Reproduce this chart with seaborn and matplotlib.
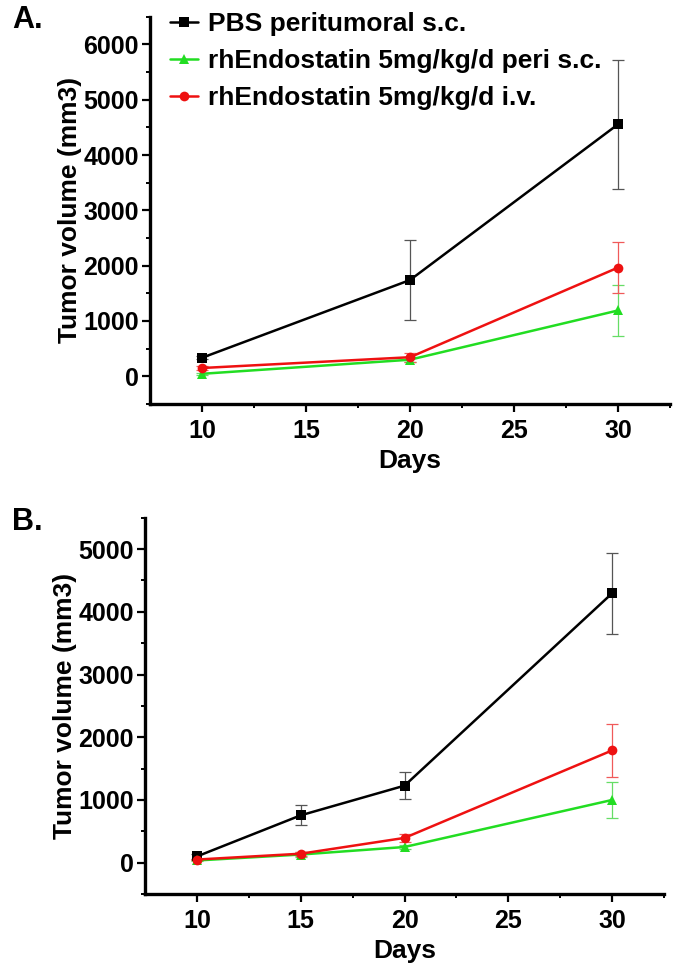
import matplotlib
matplotlib.use('Agg')
import matplotlib.pyplot as plt
import seaborn as sns
import numpy as np
import pandas as pd
from matplotlib.ticker import MultipleLocator, FixedLocator

sns.set_style('ticks')
plt.rcParams['font.family'] = ['Liberation Sans', 'DejaVu Sans']
plt.rcParams['font.weight'] = 'bold'
plt.rcParams.update({'text.color': 'black', 'axes.labelcolor': 'black',
                     'xtick.color': 'black', 'ytick.color': 'black',
                     'axes.edgecolor': 'black'})

# series names
groups = ['PBS peritumoral s.c.',
          'rhEndostatin 5mg/kg/d peri s.c.',
          'rhEndostatin 5mg/kg/d i.v.']

# panel A
days_a = [10, 20, 30]
pbs_a = [335, 1740, 4555]
pbs_a_err = [30, 725, 1170]
peri_a = [45, 300, 1190]
peri_a_err = [20, 40, 455]
iv_a = [150, 345, 1965]
iv_a_err = [30, 80, 460]

# panel B
days_b = [10, 15, 20, 30]
pbs_b = [100, 755, 1228, 4295]
pbs_b_err = [40, 162, 212, 645]
peri_b = [35, 130, 250, 1000]
peri_b_err = [10, 35, 30, 280]
iv_b = [50, 143, 395, 1790]
iv_b_err = [15, 30, 70, 420]

line_cols = {groups[0]: '#000000', groups[1]: '#22dd22', groups[2]: '#ee1111'}
err_cols = {groups[0]: '#555555', groups[1]: '#66dd66', groups[2]: '#f05a5a'}
marks = {groups[0]: 's', groups[1]: '^', groups[2]: 'o'}


def make_df(days, series):
    rows = []
    for name, (vals, errs) in zip(groups, series):
        for d, v, e in zip(days, vals, errs):
            rows.append({'Days': d, 'Volume': v, 'Err': e, 'Group': name})
    return pd.DataFrame(rows)


def draw_panel(ax, df, ymax, ytop):
    sns.lineplot(data=df, x='Days', y='Volume', hue='Group', style='Group',
                 hue_order=groups, style_order=groups, palette=line_cols,
                 markers=marks, dashes=False, linewidth=1.8, markersize=7,
                 markeredgewidth=0, ax=ax, legend=True)
    for g in groups:
        sub = df[df['Group'] == g]
        ax.errorbar(sub['Days'], sub['Volume'], yerr=sub['Err'], fmt='none',
                    ecolor=err_cols[g], elinewidth=0.9, capsize=4,
                    capthick=0.9, zorder=1)
    ax.set_xlim(7.5, 32.5)
    ax.set_ylim(-500, ytop)
    ax.xaxis.set_major_locator(MultipleLocator(5))
    ax.xaxis.set_minor_locator(FixedLocator([12.5, 17.5, 22.5, 27.5, 32.5]))
    ax.yaxis.set_major_locator(FixedLocator(np.arange(0, ymax + 1, 1000)))
    ax.yaxis.set_minor_locator(FixedLocator(np.arange(-500, ytop + 1, 1000)))
    ax.set_xlabel('Days', fontsize=19, fontweight='bold', labelpad=4)
    ax.set_ylabel('Tumor volume (mm3)', fontsize=19, fontweight='bold', labelpad=1)
    ax.tick_params(axis='both', which='major', labelsize=18, width=1.6,
                   length=6, direction='out', pad=2)
    ax.tick_params(axis='x', which='major', pad=5)
    ax.tick_params(axis='both', which='minor', width=1.4, length=3,
                   direction='out')
    for lab in ax.get_xticklabels() + ax.get_yticklabels():
        lab.set_fontweight('bold')
    sns.despine(ax=ax)
    ax.spines['left'].set_linewidth(2.4)
    ax.spines['bottom'].set_linewidth(2.4)


fig = plt.figure(figsize=(6.78, 9.72), dpi=100)
ax_a = fig.add_axes([0.2212, 0.5844, 0.767, 0.3984])
ax_b = fig.add_axes([0.2139, 0.0802, 0.7655, 0.3872])

df_a = make_df(days_a, [(pbs_a, pbs_a_err), (peri_a, peri_a_err), (iv_a, iv_a_err)])
df_b = make_df(days_b, [(pbs_b, pbs_b_err), (peri_b, peri_b_err), (iv_b, iv_b_err)])

draw_panel(ax_a, df_a, 6000, 6500)
draw_panel(ax_b, df_b, 5000, 5500)

handles, labels = ax_a.get_legend_handles_labels()
ax_a.get_legend().remove()
ax_b.get_legend().remove()
for h in handles:
    h.set_markersize(7)
fig.legend(handles[-3:], labels[-3:], loc='upper left',
           bbox_to_anchor=(0.2507, 0.9877), frameon=False, borderpad=0,
           borderaxespad=0, handlelength=1.05, handletextpad=0.38,
           labelspacing=0.5, prop={'size': 19, 'weight': 'bold'})

fig.text(0.018, 0.995, 'A.', fontsize=22, fontweight='bold', va='top')
fig.text(0.018, 0.478, 'B.', fontsize=22, fontweight='bold', va='top')

fig.savefig('out.png', dpi=100)
